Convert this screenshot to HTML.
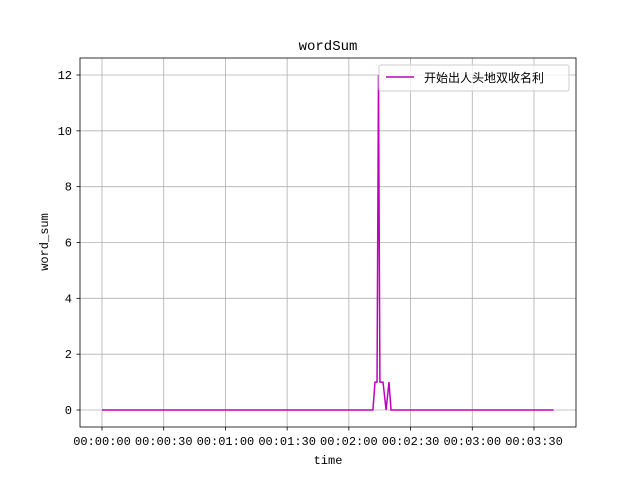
<!DOCTYPE html>
<html><head><meta charset="utf-8"><style>
body{margin:0;background:#fff}
text{font-family:"Liberation Mono","WenQuanYi Zen Hei","Noto Sans CJK SC",monospace;font-size:12px;fill:#000}
</style></head><body>
<svg id="chart" width="640" height="480" xmlns="http://www.w3.org/2000/svg">
<rect width="640" height="480" fill="#fff"/>
<text x="328" y="50" text-anchor="middle" style="font-size:14px">wordSum</text>
<g id="grid"></g>
<g id="ticks"></g>
<path id="line" fill="none" stroke="#bf00bf" stroke-width="1.5"/>
<rect x="80" y="58" width="496" height="369" fill="none" stroke="#000" stroke-width="0.8"/>
<text x="328" y="464" text-anchor="middle">time</text>
<text transform="translate(48,242) rotate(-90)" text-anchor="middle">word_sum</text>
<g>
<rect x="379" y="65" width="190" height="26" fill="#fff" fill-opacity="0.8" stroke="#ccc" rx="2"/>
<line x1="386" y1="77" x2="414" y2="77" stroke="#bf00bf" stroke-width="1.5"/>
<text x="424" y="82">开始出人头地双收名利</text>
</g>
</svg>
<script>
const times=[0,131.7,132.7,133.7,134.4,135.1,136.6,138.1,139.5,140.5,219.5];
const values=[0,0,1,1,12,1,1,0,1,0,0];
const xTicks=[0,30,60,90,120,150,180,210];
const xTickLabels=["00:00:00","00:00:30","00:01:00","00:01:30","00:02:00","00:02:30","00:03:00","00:03:30"];
const yTicks=[0,2,4,6,8,10,12];
const NS="http://www.w3.org/2000/svg";
const xs=t=>102+t*(432/210);
const ys=v=>410-v*(335/12);
const grid=document.getElementById('grid'),ticks=document.getElementById('ticks');
function mk(tag,attrs,parent){const e=document.createElementNS(NS,tag);for(const k in attrs)e.setAttribute(k,attrs[k]);parent.appendChild(e);return e;}
xTicks.forEach((t,i)=>{
  const x=xs(t);
  const g=mk('line',{x1:x,x2:x,y1:58,y2:427,stroke:'#b0b0b0','stroke-width':0.8},grid);
  
  
  mk('line',{x1:x,x2:x,y1:427,y2:430.5,stroke:'#000','stroke-width':0.8},ticks);
  const tx=mk('text',{x:x,y:445,'text-anchor':'middle'},ticks);
  tx.textContent=xTickLabels[i];
  
  
});
yTicks.forEach(v=>{
  const y=ys(v);
  const g=mk('line',{x1:80,x2:576,y1:y,y2:y,stroke:'#b0b0b0','stroke-width':0.8},grid);
  
  
  mk('line',{x1:76.5,x2:80,y1:y,y2:y,stroke:'#000','stroke-width':0.8},ticks);
  const tx=mk('text',{x:72,y:y+4,'text-anchor':'end'},ticks);
  tx.textContent=v;
  
  
});
document.getElementById('line').setAttribute('d',times.map((t,i)=>(i?'L':'M')+xs(t)+' '+ys(values[i])).join(' '));
</script>
</body></html>
